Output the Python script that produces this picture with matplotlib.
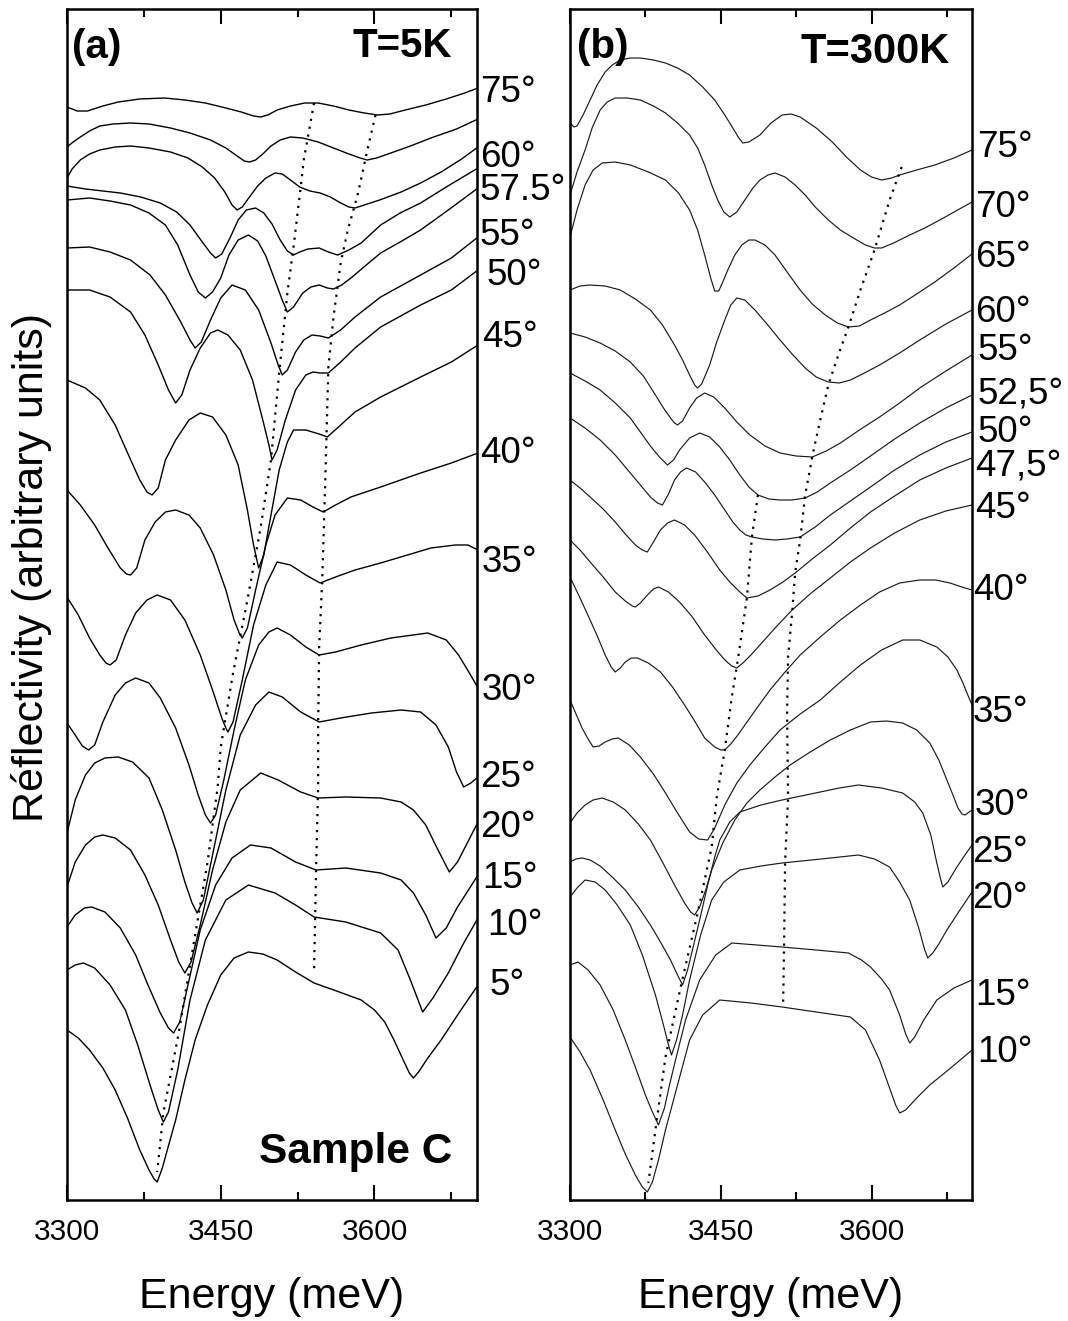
import matplotlib.pyplot as plt

plt.rcParams['font.family'] = ['Liberation Sans', 'DejaVu Sans']

# ---------------- panel (a): T = 5 K, sample C ----------------
# each curve: (energy meV, reflectivity arbitrary units), top curve first
a_curves = [
    [(3300, 10.93), (3310, 10.89), (3320, 10.89), (3335, 10.94), (3350, 10.98), (3371, 11.01), (3395, 11.02),
     (3415, 11.00), (3435, 10.97), (3455, 10.92), (3470, 10.88), (3482, 10.84), (3489, 10.83), (3496, 10.85),
     (3505, 10.90), (3518, 10.94), (3532, 10.97), (3545, 10.97), (3560, 10.94), (3575, 10.90), (3590, 10.87),
     (3603, 10.85), (3615, 10.86), (3630, 10.90), (3650, 10.95), (3670, 11.01), (3688, 11.07), (3701, 11.12)],
    [(3300, 10.53), (3306, 10.58), (3313, 10.63), (3322, 10.69), (3332, 10.74), (3345, 10.76), (3362, 10.77),
     (3380, 10.76), (3401, 10.72), (3420, 10.67), (3440, 10.60), (3455, 10.52), (3466, 10.44), (3473, 10.39),
     (3478, 10.38), (3484, 10.40), (3491, 10.46), (3499, 10.54), (3508, 10.60), (3518, 10.63), (3530, 10.62),
     (3545, 10.58), (3560, 10.52), (3575, 10.46), (3586, 10.42), (3593, 10.40), (3602, 10.42), (3616, 10.47),
     (3635, 10.54), (3655, 10.62), (3680, 10.71), (3701, 10.81)],
    [(3300, 10.22), (3305, 10.31), (3313, 10.40), (3322, 10.46), (3332, 10.50), (3347, 10.53), (3362, 10.54),
     (3380, 10.52), (3401, 10.48), (3418, 10.42), (3432, 10.33), (3444, 10.22), (3454, 10.08), (3461, 9.95),
     (3466, 9.90), (3471, 9.93), (3478, 10.03), (3486, 10.14), (3494, 10.22), (3503, 10.27), (3510, 10.26),
     (3518, 10.20), (3527, 10.13), (3537, 10.09), (3547, 10.07), (3557, 10.03), (3567, 9.97), (3575, 9.93),
     (3581, 9.92), (3590, 9.95), (3605, 10.00), (3626, 10.08), (3645, 10.17), (3665, 10.28), (3685, 10.41),
     (3701, 10.53)],
    [(3300, 10.14), (3318, 10.11), (3335, 10.09), (3352, 10.07), (3372, 10.03), (3391, 9.97), (3407, 9.88),
     (3420, 9.75), (3432, 9.58), (3440, 9.47), (3445, 9.42), (3451, 9.46), (3459, 9.62), (3467, 9.80),
     (3475, 9.90), (3484, 9.92), (3492, 9.87), (3500, 9.76), (3508, 9.60), (3515, 9.49), (3521, 9.45),
     (3527, 9.48), (3535, 9.51), (3546, 9.52), (3555, 9.48), (3564, 9.45), (3575, 9.50), (3587, 9.57),
     (3606, 9.75), (3625, 9.87), (3645, 9.97), (3670, 10.13), (3701, 10.32)],
    [(3300, 10.00), (3322, 10.02), (3342, 9.99), (3362, 9.95), (3380, 9.87), (3396, 9.75), (3408, 9.55),
     (3420, 9.25), (3428, 9.08), (3435, 9.02), (3442, 9.08), (3450, 9.22), (3458, 9.45), (3467, 9.60),
     (3477, 9.65), (3486, 9.59), (3494, 9.44), (3502, 9.22), (3510, 9.00), (3515, 8.88), (3521, 8.93),
     (3530, 9.07), (3538, 9.13), (3546, 9.15), (3554, 9.12), (3560, 9.11), (3568, 9.15), (3577, 9.22),
     (3592, 9.35), (3606, 9.47), (3625, 9.58), (3645, 9.70), (3672, 9.90), (3701, 10.12)],
    [(3300, 9.52), (3322, 9.53), (3342, 9.48), (3362, 9.40), (3381, 9.25), (3396, 9.05), (3411, 8.78),
     (3420, 8.60), (3425, 8.52), (3431, 8.58), (3440, 8.80), (3450, 9.02), (3461, 9.15), (3474, 9.10),
     (3487, 8.90), (3499, 8.57), (3506, 8.35), (3510, 8.25), (3515, 8.30), (3523, 8.48), (3531, 8.60),
     (3539, 8.65), (3547, 8.64), (3555, 8.62), (3567, 8.70), (3581, 8.83), (3606, 9.03), (3645, 9.25),
     (3675, 9.42), (3701, 9.63)],
    [(3300, 9.10), (3322, 9.10), (3342, 9.03), (3362, 8.88), (3376, 8.65), (3389, 8.35), (3399, 8.10),
     (3406, 7.97), (3412, 8.05), (3420, 8.30), (3430, 8.52), (3440, 8.67), (3447, 8.70), (3457, 8.65),
     (3469, 8.50), (3481, 8.20), (3491, 7.80), (3497, 7.55), (3500, 7.40), (3505, 7.50), (3513, 7.80),
     (3523, 8.10), (3533, 8.25), (3540, 8.28), (3547, 8.27), (3555, 8.27), (3567, 8.38), (3581, 8.52),
     (3606, 8.73), (3645, 8.95), (3675, 9.10), (3701, 9.30)],
    [(3300, 8.20), (3318, 8.12), (3332, 8.00), (3347, 7.75), (3360, 7.45), (3371, 7.20), (3378, 7.08),
     (3383, 7.05), (3389, 7.12), (3396, 7.40), (3406, 7.60), (3419, 7.80), (3430, 7.87), (3442, 7.83),
     (3455, 7.65), (3467, 7.35), (3476, 6.90), (3482, 6.55), (3487, 6.32), (3492, 6.45), (3499, 6.85),
     (3507, 7.30), (3515, 7.58), (3521, 7.70), (3533, 7.70), (3546, 7.66), (3554, 7.63), (3567, 7.75),
     (3581, 7.88), (3606, 8.03), (3645, 8.23), (3675, 8.38), (3701, 8.55)],
    [(3300, 7.10), (3313, 6.95), (3327, 6.75), (3340, 6.52), (3352, 6.32), (3358, 6.26), (3362, 6.25),
     (3368, 6.32), (3376, 6.60), (3386, 6.78), (3396, 6.88), (3406, 6.90), (3419, 6.85), (3430, 6.72),
     (3443, 6.45), (3455, 6.10), (3463, 5.80), (3468, 5.67), (3471, 5.62), (3476, 5.72), (3484, 6.10),
     (3494, 6.55), (3503, 6.85), (3515, 7.02), (3528, 7.00), (3540, 6.93), (3550, 6.88), (3562, 6.95),
     (3577, 7.03), (3606, 7.13), (3645, 7.27), (3675, 7.37), (3701, 7.47)],
    [(3300, 6.03), (3311, 5.85), (3322, 5.62), (3332, 5.45), (3338, 5.37), (3342, 5.35), (3348, 5.40),
     (3357, 5.65), (3367, 5.87), (3378, 6.00), (3388, 6.05), (3401, 6.00), (3415, 5.80), (3430, 5.45),
     (3442, 5.10), (3451, 4.82), (3455, 4.72), (3457, 4.68), (3462, 4.78), (3471, 5.20), (3482, 5.75),
     (3494, 6.15), (3505, 6.38), (3518, 6.35), (3533, 6.25), (3547, 6.17), (3562, 6.23), (3581, 6.30),
     (3606, 6.37), (3655, 6.52), (3679, 6.55), (3691, 6.55), (3701, 6.50)],
    [(3300, 4.77), (3308, 4.65), (3315, 4.54), (3321, 4.50), (3327, 4.55), (3335, 4.78), (3347, 5.05),
     (3357, 5.17), (3367, 5.22), (3380, 5.17), (3391, 5.02), (3406, 4.72), (3419, 4.35), (3428, 4.05),
     (3435, 3.85), (3440, 3.77), (3445, 3.85), (3453, 4.20), (3463, 4.70), (3474, 5.20), (3487, 5.55),
     (3497, 5.68), (3505, 5.72), (3518, 5.65), (3533, 5.53), (3546, 5.45), (3562, 5.48), (3587, 5.55),
     (3616, 5.62), (3652, 5.67), (3670, 5.60), (3682, 5.45), (3692, 5.28), (3701, 5.12)],
    [(3300, 3.67), (3308, 4.00), (3318, 4.25), (3327, 4.37), (3337, 4.42), (3350, 4.43), (3364, 4.38),
     (3380, 4.22), (3393, 3.90), (3406, 3.50), (3415, 3.18), (3422, 2.97), (3427, 2.87), (3433, 3.00),
     (3442, 3.45), (3455, 4.10), (3469, 4.65), (3484, 4.95), (3497, 5.08), (3510, 5.03), (3528, 4.88),
     (3546, 4.78), (3567, 4.82), (3597, 4.87), (3626, 4.90), (3645, 4.88), (3660, 4.75), (3672, 4.53),
     (3680, 4.28), (3687, 4.13), (3694, 4.17), (3701, 4.23)],
    [(3300, 3.13), (3308, 3.38), (3318, 3.55), (3327, 3.63), (3335, 3.65), (3347, 3.62), (3362, 3.50),
     (3376, 3.25), (3389, 2.95), (3401, 2.60), (3409, 2.38), (3415, 2.27), (3421, 2.38), (3430, 2.75),
     (3442, 3.30), (3455, 3.78), (3469, 4.10), (3489, 4.27), (3506, 4.20), (3528, 4.08), (3545, 4.02),
     (3572, 4.03), (3606, 4.02), (3626, 3.98), (3638, 3.90), (3650, 3.75), (3662, 3.50), (3673, 3.28),
     (3681, 3.38), (3687, 3.50), (3701, 3.78)],
    [(3300, 2.73), (3308, 2.85), (3317, 2.92), (3324, 2.93), (3337, 2.88), (3352, 2.72), (3367, 2.45),
     (3379, 2.15), (3391, 1.87), (3399, 1.72), (3404, 1.67), (3410, 1.78), (3418, 2.15), (3430, 2.70),
     (3445, 3.15), (3461, 3.42), (3479, 3.55), (3499, 3.52), (3523, 3.38), (3543, 3.30), (3572, 3.32),
     (3606, 3.27), (3626, 3.20), (3638, 3.07), (3650, 2.85), (3660, 2.62), (3670, 2.72), (3681, 2.93),
     (3701, 3.25)],
    [(3300, 2.30), (3308, 2.35), (3316, 2.37), (3327, 2.32), (3342, 2.15), (3357, 1.90), (3369, 1.55),
     (3381, 1.15), (3389, 0.90), (3394, 0.78), (3399, 0.88), (3408, 1.30), (3420, 2.00), (3435, 2.60),
     (3455, 3.00), (3477, 3.15), (3503, 3.07), (3523, 2.95), (3541, 2.83), (3572, 2.78), (3606, 2.67),
     (3623, 2.50), (3635, 2.20), (3647, 1.88), (3657, 2.02), (3672, 2.27), (3686, 2.55), (3701, 2.82)],
    [(3300, 1.70), (3311, 1.62), (3322, 1.50), (3335, 1.32), (3347, 1.10), (3359, 0.82), (3371, 0.50),
     (3380, 0.30), (3385, 0.21), (3388, 0.18), (3393, 0.32), (3400, 0.58), (3406, 0.80), (3415, 1.20),
     (3425, 1.60), (3437, 1.95), (3450, 2.25), (3463, 2.42), (3477, 2.48), (3491, 2.46), (3505, 2.40),
     (3523, 2.28), (3541, 2.17), (3563, 2.09), (3587, 2.00), (3600, 1.90), (3610, 1.78), (3619, 1.60),
     (3628, 1.40), (3634, 1.27), (3638, 1.22), (3643, 1.28), (3652, 1.42), (3665, 1.60), (3683, 1.88),
     (3701, 2.15)],
]
# dotted guide lines following the two excitonic features
a_guides = [
    [(3541, 10.97), (3531, 10.40), (3528, 10.13), (3521, 9.53), (3515, 9.07), (3507, 8.27), (3499, 7.40),
     (3489, 6.73), (3476, 6.00), (3462, 5.27), (3450, 4.53), (3447, 4.13), (3437, 3.37), (3423, 2.53),
     (3409, 1.67), (3394, 0.87), (3388, 0.28)],
    [(3601, 10.85), (3593, 10.50), (3584, 10.07), (3574, 9.70), (3567, 9.37), (3560, 8.83), (3555, 8.33),
     (3552, 7.20), (3549, 6.20), (3546, 5.53), (3545, 4.73), (3545, 4.13), (3543, 3.30), (3541, 2.27)],
]
a_angles = ["75°", "60°", "57.5°", "55°", "50°", "45°", "40°",
            "35°", "30°", "25°", "20°", "15°", "10°", "5°"]

# ---------------- panel (b): T = 300 K ----------------
b_curves = [
    [(3300, 10.77), (3304, 10.73), (3307, 10.74), (3313, 10.85), (3320, 11.00), (3327, 11.15), (3335, 11.28),
     (3342, 11.35), (3350, 11.40), (3360, 11.42), (3370, 11.42), (3383, 11.40), (3395, 11.37), (3407, 11.32),
     (3419, 11.25), (3432, 11.13), (3444, 11.00), (3454, 10.85), (3462, 10.72), (3468, 10.62), (3472, 10.57),
     (3478, 10.58), (3489, 10.65), (3500, 10.77), (3511, 10.85), (3520, 10.86), (3529, 10.83), (3545, 10.72),
     (3561, 10.58), (3575, 10.43), (3589, 10.30), (3600, 10.23), (3610, 10.20), (3620, 10.22), (3628, 10.25),
     (3645, 10.30), (3663, 10.35), (3682, 10.42), (3700, 10.50)],
    [(3300, 10.05), (3307, 10.28), (3315, 10.50), (3322, 10.72), (3330, 10.90), (3337, 10.98), (3345, 11.02),
     (3357, 11.02), (3370, 11.00), (3383, 10.94), (3395, 10.87), (3407, 10.77), (3419, 10.65), (3427, 10.52),
     (3434, 10.35), (3441, 10.15), (3447, 10.00), (3453, 9.88), (3459, 9.83), (3466, 9.88), (3474, 10.00),
     (3482, 10.12), (3489, 10.20), (3497, 10.25), (3504, 10.27), (3514, 10.23), (3524, 10.15), (3534, 10.05),
     (3544, 9.93), (3557, 9.80), (3569, 9.70), (3582, 9.62), (3594, 9.55), (3603, 9.52), (3610, 9.52),
     (3622, 9.57), (3638, 9.65), (3653, 9.72), (3668, 9.80), (3684, 9.89), (3700, 9.98)],
    [(3300, 9.63), (3307, 9.90), (3315, 10.15), (3323, 10.30), (3332, 10.37), (3345, 10.38), (3360, 10.35),
     (3378, 10.28), (3395, 10.20), (3408, 10.07), (3419, 9.90), (3427, 9.70), (3434, 9.45), (3440, 9.22),
     (3444, 9.09), (3448, 9.09), (3452, 9.18), (3457, 9.30), (3464, 9.45), (3471, 9.55), (3478, 9.60),
     (3484, 9.60), (3494, 9.55), (3504, 9.45), (3516, 9.28), (3529, 9.10), (3541, 8.96), (3554, 8.85),
     (3566, 8.77), (3577, 8.73), (3588, 8.74), (3599, 8.80), (3613, 8.87), (3628, 8.95), (3645, 9.06),
     (3663, 9.18), (3682, 9.32), (3700, 9.46)],
    [(3300, 9.10), (3310, 9.14), (3320, 9.15), (3335, 9.14), (3350, 9.10), (3365, 9.01), (3380, 8.90),
     (3392, 8.75), (3404, 8.55), (3412, 8.40), (3419, 8.25), (3424, 8.15), (3427, 8.12), (3431, 8.16),
     (3439, 8.35), (3446, 8.58), (3454, 8.80), (3460, 8.95), (3466, 9.02), (3474, 9.00), (3484, 8.90),
     (3496, 8.76), (3509, 8.60), (3521, 8.46), (3534, 8.32), (3545, 8.23), (3557, 8.18), (3568, 8.17),
     (3579, 8.20), (3593, 8.27), (3608, 8.35), (3628, 8.47), (3648, 8.60), (3674, 8.76), (3700, 8.90)],
    [(3300, 8.67), (3315, 8.63), (3330, 8.57), (3345, 8.49), (3360, 8.38), (3373, 8.24), (3385, 8.05),
     (3393, 7.92), (3400, 7.82), (3404, 7.77), (3407, 7.75), (3412, 7.79), (3419, 7.92), (3426, 8.02),
     (3434, 8.07), (3443, 8.03), (3454, 7.92), (3466, 7.78), (3479, 7.65), (3494, 7.54), (3509, 7.47),
     (3525, 7.44), (3541, 7.43), (3555, 7.49), (3569, 7.57), (3588, 7.70), (3608, 7.83), (3628, 7.97),
     (3648, 8.12), (3674, 8.29), (3700, 8.45)],
    [(3300, 8.27), (3315, 8.19), (3330, 8.10), (3345, 7.97), (3360, 7.82), (3370, 7.68), (3380, 7.54),
     (3389, 7.43), (3397, 7.35), (3403, 7.40), (3409, 7.50), (3419, 7.62), (3429, 7.67), (3439, 7.63),
     (3449, 7.53), (3459, 7.40), (3469, 7.25), (3478, 7.13), (3487, 7.05), (3498, 7.01), (3509, 7.00),
     (3521, 7.00), (3534, 7.02), (3546, 7.08), (3559, 7.17), (3579, 7.30), (3599, 7.44), (3623, 7.61),
     (3648, 7.77), (3674, 7.92), (3700, 8.05)],
    [(3300, 7.82), (3315, 7.72), (3330, 7.60), (3345, 7.45), (3360, 7.27), (3370, 7.15), (3380, 7.03),
     (3387, 6.97), (3392, 6.95), (3398, 7.06), (3404, 7.20), (3410, 7.28), (3416, 7.32), (3425, 7.28),
     (3434, 7.18), (3444, 7.05), (3454, 6.90), (3462, 6.78), (3469, 6.70), (3475, 6.65), (3481, 6.63),
     (3492, 6.61), (3504, 6.60), (3516, 6.61), (3529, 6.63), (3544, 6.73), (3559, 6.85), (3579, 6.99),
     (3599, 7.13), (3623, 7.30), (3648, 7.45), (3674, 7.58), (3700, 7.68)],
    [(3300, 7.20), (3310, 7.12), (3320, 7.03), (3333, 6.91), (3345, 6.78), (3355, 6.66), (3365, 6.55),
     (3372, 6.50), (3377, 6.48), (3383, 6.58), (3390, 6.70), (3397, 6.77), (3404, 6.80), (3414, 6.75),
     (3424, 6.65), (3436, 6.49), (3449, 6.30), (3459, 6.18), (3469, 6.08), (3476, 6.02), (3487, 6.04),
     (3499, 6.10), (3512, 6.18), (3524, 6.27), (3541, 6.41), (3559, 6.55), (3579, 6.72), (3599, 6.88),
     (3623, 7.04), (3648, 7.20), (3674, 7.32), (3700, 7.42)],
    [(3300, 6.60), (3310, 6.50), (3320, 6.38), (3333, 6.23), (3345, 6.08), (3355, 5.99), (3362, 5.94),
     (3365, 5.93), (3370, 5.97), (3377, 6.05), (3383, 6.11), (3388, 6.13), (3398, 6.08), (3409, 5.98),
     (3421, 5.84), (3434, 5.65), (3444, 5.52), (3454, 5.40), (3461, 5.34), (3466, 5.32), (3472, 5.37),
     (3480, 5.45), (3489, 5.55), (3505, 5.73), (3521, 5.90), (3540, 6.07), (3559, 6.22), (3579, 6.38),
     (3599, 6.52), (3623, 6.67), (3648, 6.80), (3674, 6.89), (3700, 6.95)],
    [(3300, 6.23), (3310, 6.02), (3320, 5.80), (3328, 5.62), (3335, 5.45), (3341, 5.33), (3345, 5.28),
     (3350, 5.32), (3355, 5.38), (3361, 5.42), (3367, 5.42), (3378, 5.37), (3390, 5.28), (3402, 5.13),
     (3414, 4.95), (3424, 4.79), (3434, 4.62), (3444, 4.53), (3450, 4.50), (3454, 4.50), (3460, 4.56),
     (3467, 4.65), (3474, 4.75), (3486, 4.92), (3499, 5.10), (3514, 5.28), (3529, 5.45), (3549, 5.63),
     (3569, 5.80), (3589, 5.95), (3608, 6.08), (3628, 6.17), (3648, 6.20), (3664, 6.20), (3678, 6.17),
     (3690, 6.13), (3700, 6.10)],
    [(3300, 5.00), (3306, 4.86), (3312, 4.72), (3318, 4.61), (3323, 4.53), (3329, 4.54), (3335, 4.58),
     (3342, 4.61), (3348, 4.62), (3359, 4.55), (3370, 4.43), (3383, 4.26), (3395, 4.07), (3407, 3.87),
     (3419, 3.68), (3428, 3.61), (3437, 3.60), (3444, 3.72), (3454, 3.95), (3466, 4.17), (3479, 4.35),
     (3494, 4.53), (3509, 4.70), (3529, 4.86), (3549, 5.00), (3569, 5.18), (3589, 5.35), (3610, 5.50),
     (3631, 5.60), (3648, 5.60), (3665, 5.53), (3676, 5.43), (3685, 5.30), (3691, 5.17), (3695, 5.07),
     (3700, 4.95)],
    [(3300, 3.77), (3307, 3.87), (3315, 3.95), (3323, 4.00), (3332, 4.02), (3343, 3.98), (3355, 3.90),
     (3368, 3.76), (3380, 3.60), (3392, 3.38), (3404, 3.15), (3414, 2.97), (3420, 2.88), (3424, 2.85),
     (3429, 2.93), (3435, 3.10), (3441, 3.30), (3452, 3.57), (3464, 3.80), (3476, 3.97), (3489, 4.10),
     (3504, 4.23), (3519, 4.35), (3539, 4.48), (3559, 4.60), (3579, 4.70), (3599, 4.78), (3615, 4.79),
     (3631, 4.77), (3645, 4.70), (3658, 4.57), (3667, 4.40), (3675, 4.20), (3681, 4.05), (3686, 3.92),
     (3690, 3.86), (3693, 3.85), (3700, 3.90)],
    [(3300, 3.38), (3306, 3.41), (3312, 3.42), (3320, 3.40), (3330, 3.34), (3342, 3.23), (3355, 3.10),
     (3368, 2.93), (3380, 2.75), (3390, 2.58), (3400, 2.40), (3407, 2.25), (3412, 2.15), (3417, 2.30),
     (3423, 2.55), (3429, 2.80), (3437, 3.15), (3444, 3.43), (3449, 3.60), (3459, 3.78), (3469, 3.88),
     (3490, 3.95), (3511, 4.00), (3530, 4.04), (3549, 4.08), (3568, 4.12), (3587, 4.15), (3610, 4.12),
     (3631, 4.07), (3643, 3.98), (3651, 3.87), (3659, 3.65), (3665, 3.37), (3669, 3.20), (3671, 3.13),
     (3676, 3.18), (3685, 3.33), (3693, 3.45), (3700, 3.55)],
    [(3300, 3.03), (3307, 3.12), (3315, 3.20), (3325, 3.18), (3335, 3.10), (3347, 2.95), (3360, 2.75),
     (3372, 2.45), (3385, 2.05), (3393, 1.75), (3398, 1.55), (3401, 1.45), (3406, 1.60), (3412, 1.85),
     (3419, 2.20), (3430, 2.65), (3441, 3.00), (3453, 3.18), (3469, 3.30), (3490, 3.34), (3511, 3.37),
     (3550, 3.41), (3587, 3.45), (3603, 3.41), (3618, 3.33), (3628, 3.18), (3638, 3.00), (3647, 2.72),
     (3653, 2.50), (3656, 2.42), (3661, 2.47), (3667, 2.56), (3675, 2.70), (3688, 2.90), (3700, 3.08)],
    [(3300, 2.35), (3308, 2.38), (3318, 2.30), (3330, 2.15), (3343, 1.90), (3355, 1.60), (3365, 1.33),
     (3375, 1.05), (3382, 0.88), (3388, 0.75), (3394, 0.92), (3399, 1.15), (3405, 1.40), (3415, 1.80),
     (3429, 2.20), (3445, 2.45), (3461, 2.57), (3486, 2.55), (3511, 2.53), (3545, 2.50), (3577, 2.47),
     (3590, 2.40), (3599, 2.33), (3610, 2.21), (3618, 2.10), (3628, 1.85), (3634, 1.66), (3638, 1.57),
     (3643, 1.63), (3652, 1.80), (3665, 2.00), (3682, 2.12), (3700, 2.20)],
    [(3300, 1.63), (3310, 1.48), (3320, 1.30), (3333, 1.00), (3345, 0.70), (3355, 0.46), (3365, 0.25),
     (3372, 0.13), (3377, 0.08), (3382, 0.18), (3388, 0.40), (3395, 0.70), (3407, 1.15), (3419, 1.60),
     (3432, 1.85), (3449, 2.00), (3480, 1.97), (3511, 1.93), (3545, 1.88), (3579, 1.83), (3594, 1.70),
     (3608, 1.40), (3618, 1.12), (3624, 0.95), (3628, 0.87), (3634, 0.90), (3645, 1.02), (3658, 1.15),
     (3680, 1.33), (3700, 1.50)],
]
b_guides = [
    [(3487, 7.05), (3481, 6.63), (3476, 6.02), (3467, 5.40), (3461, 5.03), (3454, 4.50), (3446, 4.03),
     (3441, 3.53), (3427, 2.87), (3411, 2.17), (3395, 1.43), (3385, 0.70), (3378, 0.17)],
    [(3630, 10.33), (3618, 10.00), (3603, 9.50), (3589, 9.10), (3577, 8.73), (3567, 8.45), (3557, 8.15),
     (3549, 7.80), (3542, 7.48), (3534, 7.05), (3529, 6.60), (3524, 6.27), (3521, 5.87), (3517, 5.43),
     (3516, 4.87), (3517, 4.03), (3514, 3.37), (3513, 2.53), (3512, 1.93)],
]
b_angles = ["75°", "70°", "65°", "60°", "55°", "52,5°", "50°", "47,5°",
            "45°", "40°", "35°", "30°", "25°", "20°", "15°", "10°"]

# ---------------- layout (pixels of the 1068 x 1321 picture) ----------------
W, H = 1068, 1321
# angle label anchors: (left x, baseline y)
a_label_xy = [(480, 102), (480, 167), (480, 200), (480, 245), (487, 285), (482, 347), (480, 463),
              (482, 572), (482, 700), (480, 787), (480, 837), (482, 888), (487, 935), (490, 995)]
b_label_xy = [(977, 157), (975, 217), (975, 267), (975, 322), (978, 360), (978, 403), (978, 442), (975, 475),
              (975, 518), (973, 600), (973, 722), (975, 815), (972, 862), (972, 908), (975, 1005), (977, 1062)]


def box(left, top, right, bottom):
    return [left / W, 1 - bottom / H, (right - left) / W, (bottom - top) / H]


def fig_xy(x, y):
    return x / W, 1 - y / H


fig = plt.figure(figsize=(W / 100, H / 100), dpi=100)
ax_a = fig.add_axes(box(67, 9, 477, 1200))
ax_b = fig.add_axes(box(570, 9, 972, 1200))

for ax, curves, guides, lw, col in [(ax_a, a_curves, a_guides, 1.0, 'black'),
                                    (ax_b, b_curves, b_guides, 0.85, '#1a1a1a')]:
    for pts in curves:
        e, r = zip(*pts)
        ax.plot(e, r, color=col, lw=lw, solid_joinstyle='round')
    for pts in guides:
        e, r = zip(*pts)
        ax.plot(e, r, color='black', lw=1.6, linestyle=(0, (1, 2.6)))
    ax.set_xlim(3300, 3700)
    ax.set_ylim(0, 11.91)
    ax.set_xticks([3300, 3450, 3600])
    ax.set_xticks([3375, 3525, 3675], minor=True)
    ax.set_yticks([])
    ax.tick_params(axis='x', which='both', direction='in', top=True, width=1.5,
                   labelsize=21.5, pad=13)
    ax.tick_params(axis='x', which='major', length=11)
    ax.tick_params(axis='x', which='minor', length=6)
    for s in ax.spines.values():
        s.set_linewidth(1.8)

for text, (x, y) in zip(a_angles, a_label_xy):
    fig.text(*fig_xy(x, y), text, fontsize=26.5, ha='left', va='baseline')
for text, (x, y) in zip(b_angles, b_label_xy):
    fig.text(*fig_xy(x, y), text, fontsize=26.5, ha='left', va='baseline')

fig.text(*fig_xy(72, 58), "(a)", fontsize=29, fontweight='bold', ha='left', va='baseline')
fig.text(*fig_xy(452, 57), "T=5K", fontsize=29, fontweight='bold', ha='right', va='baseline')
fig.text(*fig_xy(577, 58), "(b)", fontsize=29, fontweight='bold', ha='left', va='baseline')
fig.text(*fig_xy(950, 63), "T=300K", fontsize=30, fontweight='bold', ha='right', va='baseline')
fig.text(*fig_xy(452, 1163), "Sample C", fontsize=30.5, fontweight='bold', ha='right', va='baseline')

fig.text(*fig_xy(272, 1308), "Energy (meV)", fontsize=31, ha='center', va='baseline')
fig.text(*fig_xy(771, 1308), "Energy (meV)", fontsize=31, ha='center', va='baseline')
fig.text(*fig_xy(32, 568), "Réflectivity (arbitrary units)", fontsize=31,
         rotation=90, ha='center', va='center')

fig.savefig("out.png", dpi=100)
